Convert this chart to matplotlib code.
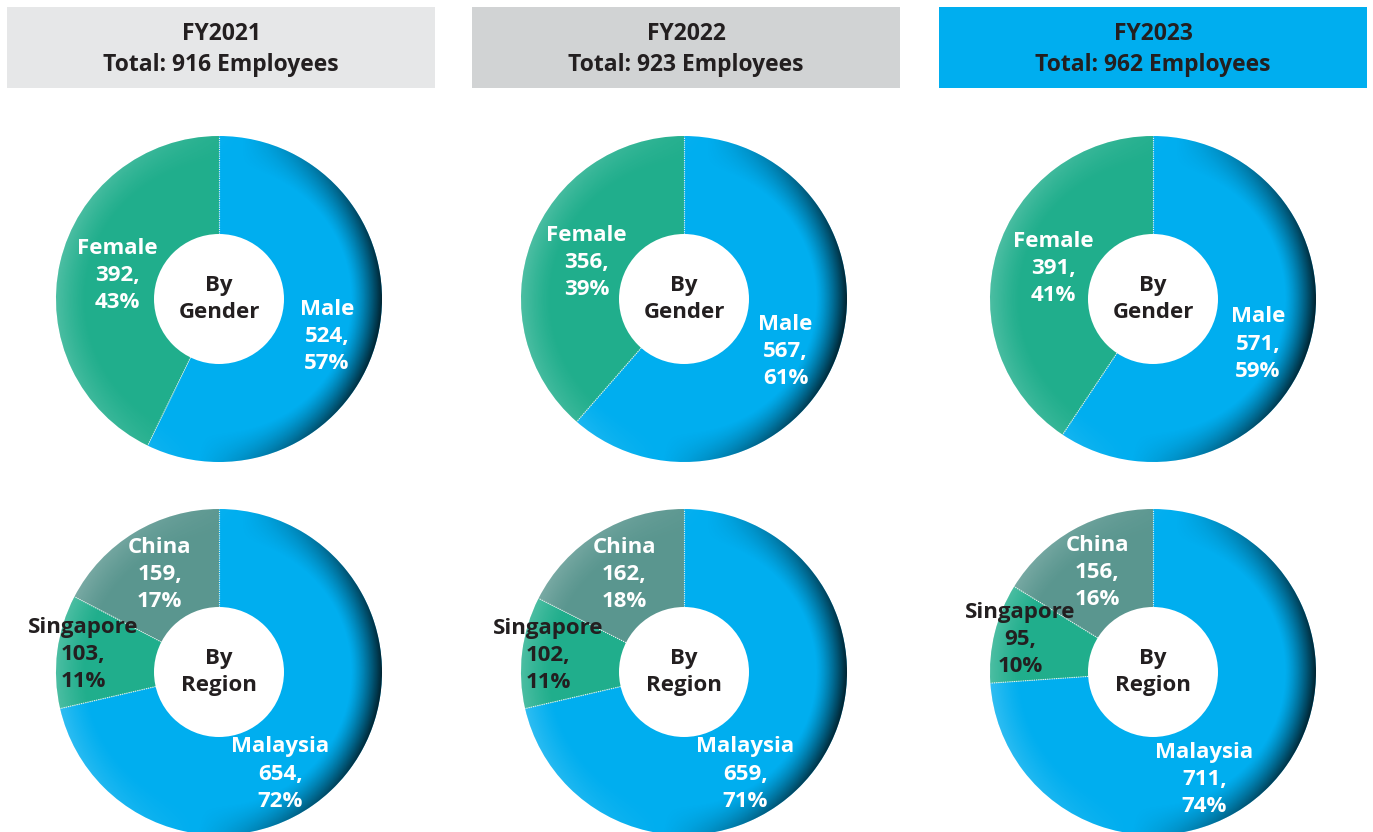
import matplotlib.pyplot as plt
import numpy as np
from matplotlib.patches import Rectangle, Circle

# data
years = ['FY2021', 'FY2022', 'FY2023']
totals = [916, 923, 962]
gender_names = ['Male', 'Female']
gender_counts = [[524, 392], [567, 356], [571, 391]]
gender_pcts = [[57, 43], [61, 39], [59, 41]]
region_names = ['Malaysia', 'Singapore', 'China']
region_counts = [[654, 103, 159], [659, 102, 162], [711, 95, 156]]
region_pcts = [[72, 11, 17], [71, 11, 18], [74, 10, 16]]

# layout (pixels, y measured from the top)
W, H = 1373, 832
col_x = [219, 684, 1153]
box_x0 = [7, 472, 939]
box_w, box_top, box_bot = 428, 7, 88
row_y = [299, 672]
R, R_hole = 163, 65

header_colors = ['#E6E7E8', '#D1D3D4', '#00AEEF']
gender_colors = ['#00AEEF', '#20AE8C']
region_colors = ['#00AEEF', '#20AE8C', '#5A968F']
dark = '#231F20'
FONT = 'Open Sans'


def Y(py):
    return H - py


def shade(ax, cx, cy):
    # bevel-like shading of the outer rim: dark on the right, light on the left
    n = 400
    xs = np.linspace(-R, R, n)
    X, Yg = np.meshgrid(xs, xs)
    rr = np.hypot(X, Yg) / R
    th = np.arctan2(Yg, X)
    t = np.clip((rr - 0.81) / 0.19, 0, 1) ** 1.3
    L = np.cos(th + np.radians(8))
    a_dark = t * np.clip(L, 0, None) ** 1.2 * 0.8
    a_light = t * np.clip(-L, 0, None) * 0.2
    img = np.zeros((n, n, 4))
    img[..., :3] = (a_light > 0)[..., None] * 1.0
    img[..., 3] = a_dark + a_light
    im = ax.imshow(img, extent=(cx - R, cx + R, cy - R, cy + R), origin='lower',
                   zorder=2, interpolation='bilinear')
    im.set_clip_path(Circle((cx, cy), R, transform=ax.transData))


def donut(ax, cx, cy, counts, pcts, names, colors, label_r, first_frac, label_colors, center_txt):
    wedges, _ = ax.pie(counts, colors=colors, startangle=90, counterclock=False,
                       center=(cx, cy), radius=R, wedgeprops=dict(linewidth=0))
    shade(ax, cx, cy)
    for i, w in enumerate(wedges):
        # thin light separator at the wedge boundary
        a = np.radians(w.theta1)
        ax.plot([cx + R_hole * np.cos(a), cx + R * np.cos(a)],
                [cy + R_hole * np.sin(a), cy + R * np.sin(a)],
                color='#e8f4f0', lw=0.8, ls=(0, (1, 1)), zorder=2.5)
        frac = first_frac if i == 0 else 0.5
        ang = np.radians(w.theta2 - frac * (w.theta2 - w.theta1))
        lx = cx + label_r[i] * R * np.cos(ang)
        ly = cy + label_r[i] * R * np.sin(ang)
        ax.text(lx, ly, f'{names[i]}\n{counts[i]},\n{pcts[i]}%', ha='center', va='center',
                color=label_colors[i], fontsize=16, fontweight='bold', family=FONT,
                linespacing=1.38, zorder=5)
    ax.add_patch(Circle((cx, cy), R_hole, facecolor='white', edgecolor='none', zorder=3))
    ax.text(cx, cy, center_txt, ha='center', va='center', color=dark, fontsize=16,
            fontweight='bold', family=FONT, linespacing=1.38, zorder=5)


fig = plt.figure(figsize=(W / 100, H / 100), dpi=100)
ax = fig.add_axes([0, 0, 1, 1])

for k in range(3):
    ax.add_patch(Rectangle((box_x0[k], Y(box_bot)), box_w, box_bot - box_top,
                           facecolor=header_colors[k], edgecolor='none', zorder=1))
    ax.text(box_x0[k] + box_w / 2, Y((box_top + box_bot) / 2 + 2),
            f'{years[k]}\nTotal: {totals[k]} Employees', ha='center', va='center',
            color=dark, fontsize=16.5, fontweight='bold', family=FONT, linespacing=1.35)

    donut(ax, col_x[k], Y(row_y[0]), gender_counts[k], gender_pcts[k], gender_names,
          gender_colors, [0.70, 0.64], 0.53, ['white', 'white'], 'By\nGender')
    donut(ax, col_x[k], Y(row_y[1]), region_counts[k], region_pcts[k], region_names,
          region_colors, [0.73, 0.84, 0.70], 0.58, ['white', dark, 'white'], 'By\nRegion')

ax.set_xlim(0, W)
ax.set_ylim(0, H)
ax.set_aspect('auto')
ax.axis('off')
fig.savefig('out.png', dpi=100)
